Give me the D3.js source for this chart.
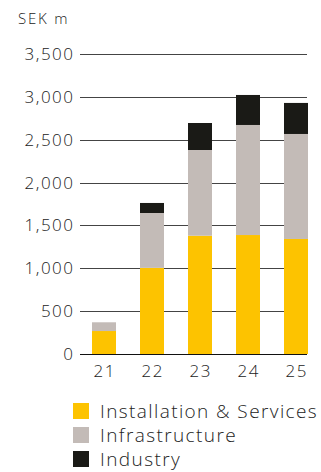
<!DOCTYPE html>
<html><head><meta charset="utf-8">
<script src="https://cdn.jsdelivr.net/npm/d3@7"></script>
<style>body{margin:0;background:#fff}svg{display:block}text{font-family:"Open Sans",sans-serif;fill:#222;font-weight:300}</style>
</head><body>
<svg id="c" width="321" height="472"></svg>
<script>
const categories = ["21","22","23","24","25"];
const seriesNames = ["Installation & Services","Infrastructure","Industry"];
const installation = [268, 1005, 1380, 1388, 1342];
const infrastructure = [102, 640, 1000, 1284, 1225];
const industry = [0, 117, 315, 350, 362];
const yTicks = [0,500,1000,1500,2000,2500,3000,3500];
const colors = ["#fdc300","#c3bbb7","#1a1a16"];

const svg = d3.select("#c");
const x = d3.scaleBand().domain(categories).range([80,320]).paddingInner(0.5).paddingOuter(0.25);
const y = d3.scaleLinear().domain([0,3500]).range([354,54]);

svg.append("text").attr("x",18).attr("y",24).attr("font-size",15).attr("letter-spacing",1.8).text("SEK m");

const g = svg.append("g");
g.selectAll("line.grid").data(yTicks).join("line")
  .attr("x1",80).attr("x2",307).attr("y1",d=>Math.round(y(d))+0.5).attr("y2",d=>Math.round(y(d))+0.5)
  .attr("stroke",d=>d===0?"#111":"#444").attr("stroke-width",1);
g.selectAll("text.yt").data(yTicks).join("text")
  .attr("x",74.5).attr("y",d=>y(d)).attr("dy","0.35em").attr("text-anchor","end")
  .attr("font-size",17).attr("letter-spacing",1.5).text(d=>d3.format(",")(d));

const rows = categories.map((c,i)=>({cat:c, v:[installation[i],infrastructure[i],industry[i]]}));
const stack = d3.stack().keys([0,1,2]).value((d,k)=>d.v[k])(rows);
stack.forEach((s,k)=>{
  svg.append("g").selectAll("rect").data(s).join("rect")
    .attr("x",d=>x(d.data.cat)).attr("width",x.bandwidth())
    .attr("y",d=>y(d[1])).attr("height",d=>Math.max(0,y(d[0])-y(d[1])))
    .attr("fill",colors[k]);
});
svg.append("line").attr("x1",80).attr("x2",307).attr("y1",354.5).attr("y2",354.5).attr("stroke","#111");

svg.selectAll("text.xt").data(categories).join("text")
  .attr("x",d=>x(d)+x.bandwidth()/2+0.75).attr("y",377).attr("text-anchor","middle")
  .attr("font-size",17).attr("letter-spacing",1.5).text(d=>d);

const lg = svg.append("g");
seriesNames.forEach((n,i)=>{
  const cy = 411 + i*24;
  lg.append("rect").attr("x",73).attr("y",cy-8).attr("width",16).attr("height",16).attr("fill",colors[i]);
  lg.append("text").attr("x",100).attr("y",cy).attr("dy","0.35em").attr("font-size",19).attr("letter-spacing",1.4).text(n);
});
</script>
</body></html>
